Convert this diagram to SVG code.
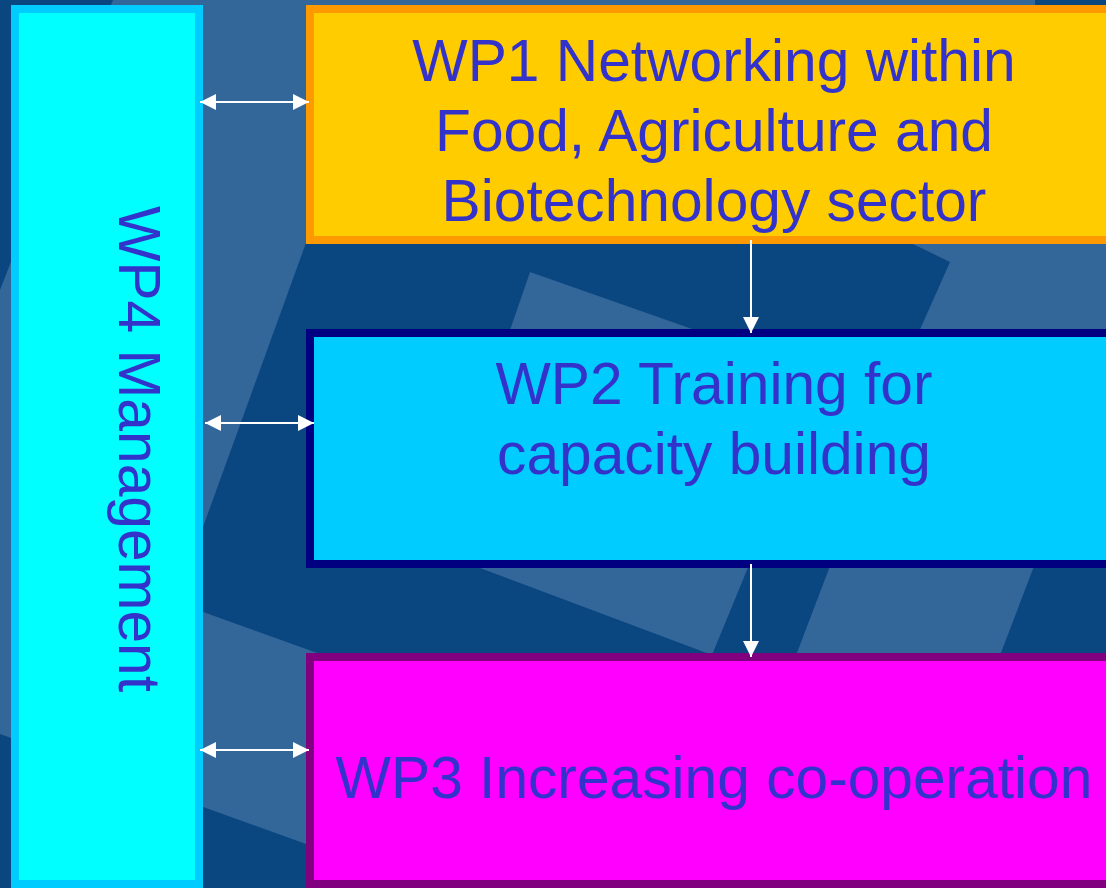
<svg xmlns="http://www.w3.org/2000/svg" width="1106" height="888" viewBox="0 0 1106 888">
  <style>
    .lbl { font-family: "Liberation Sans", Arial, sans-serif; font-size: 58.7px; fill: #3333cc; text-anchor: middle; }
    .tile { fill: #336699; }
    .conn { stroke: #ffffff; stroke-width: 2; fill: none; }
  </style>
  <defs>
    <marker id="ah" markerUnits="userSpaceOnUse" markerWidth="16" markerHeight="16" viewBox="0 0 16 16" refX="16" refY="8" orient="auto-start-reverse">
      <path d="M0,0 L16,8 L0,16 z" fill="#ffffff"/>
    </marker>
  </defs>

  <g id="background">
    <rect x="0" y="0" width="1106" height="888" fill="#0a4780"/>
    <polygon class="tile" points="113,0 394,0 203,527 150,580 0,600 0,290"/>
    <polygon class="tile" points="0,539 320,654 320,849 0,734"/>
    <rect class="tile" x="380" y="0" width="655" height="10"/>
    <polygon class="tile" points="530,272 712,336 508,336"/>
    <polygon class="tile" points="913,244 1106,240 1106,334 918,334 950,262"/>
    <polygon class="tile" points="440,553 754,553 712,655"/>
    <polygon class="tile" points="835,553 1039,553 999,658 795,658"/>
  </g>

  <g id="wp4">
    <rect x="15" y="9" width="184" height="875" fill="#00ffff" stroke="#00ccff" stroke-width="8"/>
    <text class="lbl" transform="translate(119,449) rotate(90)" x="0" y="0">WP4 Management</text>
  </g>

  <g id="wp1">
    <rect x="310" y="9" width="808" height="231" fill="#ffcc00" stroke="#ff9900" stroke-width="8"/>
    <text class="lbl" x="714" y="81">WP1 Networking within</text>
    <text class="lbl" x="714" y="151">Food, Agriculture and</text>
    <text class="lbl" x="714" y="221">Biotechnology sector</text>
  </g>

  <g id="wp2">
    <rect x="310" y="333" width="808" height="231" fill="#00ccff" stroke="#000080" stroke-width="8"/>
    <text class="lbl" x="714" y="404">WP2 Training for</text>
    <text class="lbl" x="714" y="474">capacity building</text>
  </g>

  <g id="wp3">
    <rect x="310" y="657" width="808" height="227" fill="#ff00ff" stroke="#800080" stroke-width="8"/>
    <text class="lbl" x="714" y="798">WP3 Increasing co-operation</text>
  </g>

  <g id="connectors">
    <line class="conn" x1="200" y1="102" x2="309" y2="102" marker-start="url(#ah)" marker-end="url(#ah)"/>
    <line class="conn" x1="205" y1="423" x2="314" y2="423" marker-start="url(#ah)" marker-end="url(#ah)"/>
    <line class="conn" x1="200" y1="750" x2="309" y2="750" marker-start="url(#ah)" marker-end="url(#ah)"/>
    <line class="conn" x1="751" y1="240" x2="751" y2="333" marker-end="url(#ah)"/>
    <line class="conn" x1="751" y1="564" x2="751" y2="657" marker-end="url(#ah)"/>
  </g>
</svg>
